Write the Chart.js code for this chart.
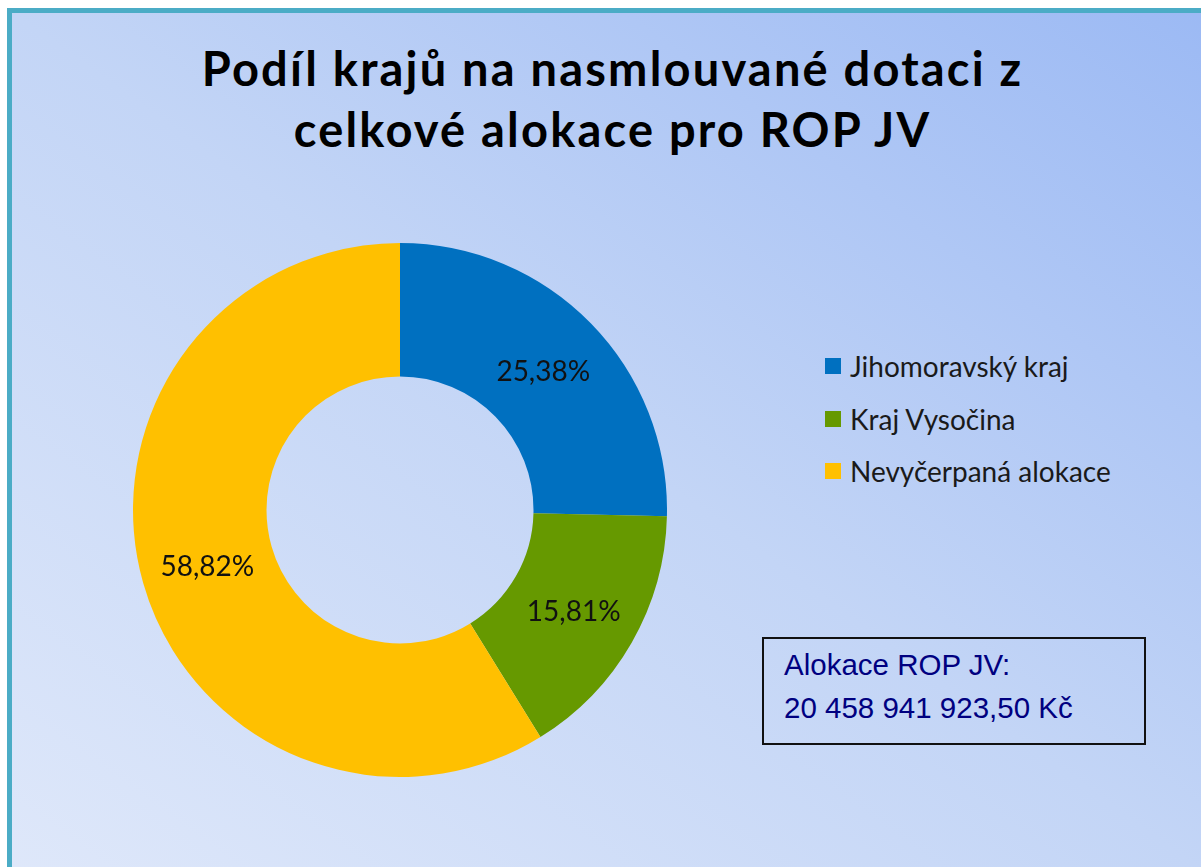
<!DOCTYPE html>
<html lang="cs">
<head>
<meta charset="utf-8">
<title>Podíl krajů na nasmlouvané dotaci</title>
<script src="https://cdn.jsdelivr.net/npm/chart.js@4/dist/chart.umd.min.js"></script>
<style>
  html, body { margin: 0; padding: 0; background: #fff; overflow: hidden; }
  body { width: 1201px; height: 867px; position: relative; }
  .frame {
    position: absolute; left: 7px; top: 8px; width: 1220px; height: 880px;
    border-left: 5px solid #4bacc6; border-top: 5px solid #4bacc6;
    background: linear-gradient(to top right, #dfe8fa 0%, #c3d5f6 50%, #9bb9f4 100%);
  }
  .title {
    position: absolute; left: 0; width: 1225px; top: 38px; text-align: center;
    font-family: Lato, "Noto Sans", sans-serif; font-weight: bold; font-size: 47px;
    letter-spacing: 2.2px; line-height: 61px; color: #000;
  }
  .chart-box { position: absolute; left: 133px; top: 243px; width: 534px; height: 534px; }
  .legend { position: absolute; left: 825px; top: 340px; font-family: Lato, "Noto Sans", sans-serif; font-size: 28px; color: #1a1a1a; }
  .legend div { height: 52.5px; display: flex; align-items: center; }
  .legend span.sw { display: inline-block; width: 16px; height: 16px; margin-right: 9px; }
  .note {
    position: absolute; left: 762px; top: 637px; width: 380px; height: 104px;
    border: 2px solid #111; font-family: "Liberation Sans", Arial, sans-serif;
    font-size: 29.5px; color: #000080; box-sizing: content-box;
  }
  .note p { margin: 0; position: absolute; left: 20px; }
</style>
</head>
<body>
<div class="frame"></div>
<div class="title">Podíl krajů na nasmlouvané dotaci z<br>celkové alokace pro ROP JV</div>
<div class="chart-box"><canvas id="myChart"></canvas></div>
<div class="legend" id="legend"></div>
<div class="note">
  <p style="top: 9px;">Alokace ROP JV:</p>
  <p style="top: 52px;">20 458 941 923,50 Kč</p>
</div>
<script>
const categories = ["Jihomoravský kraj", "Kraj Vysočina", "Nevyčerpaná alokace"];
const shares = [25.38, 15.81, 58.82];
const colors = ["#0070c0", "#669900", "#ffc000"];

const fmt = v => v.toFixed(2).replace(".", ",") + "%";

// percent labels in the middle of each ring segment
const sliceLabels = {
  id: "sliceLabels",
  afterDatasetsDraw(chart) {
    const ctx = chart.ctx;
    const meta = chart.getDatasetMeta(0);
    ctx.save();
    ctx.font = "28px Lato, 'Noto Sans', sans-serif";
    ctx.fillStyle = "#111";
    ctx.textAlign = "center";
    ctx.textBaseline = "middle";
    meta.data.forEach((arc, i) => {
      const p = arc.tooltipPosition();
      ctx.fillText(fmt(shares[i]), p.x, p.y + 2);
    });
    ctx.restore();
  }
};

const legendEl = document.getElementById("legend");
categories.forEach((name, i) => {
  const row = document.createElement("div");
  row.innerHTML = `<span class="sw" style="background:${colors[i]}"></span>${name}`;
  legendEl.appendChild(row);
});

new Chart(document.getElementById("myChart"), {
  type: "doughnut",
  data: {
    labels: categories,
    datasets: [{
      data: shares,
      backgroundColor: colors,
      borderWidth: 0,
      hoverOffset: 0
    }]
  },
  options: {
    responsive: true,
    maintainAspectRatio: false,
    animation: false,
    cutout: "50%",
    layout: { padding: 0 },
    plugins: {
      legend: { display: false },
      tooltip: { enabled: false }
    }
  },
  plugins: [sliceLabels]
});
</script>
</body>
</html>
